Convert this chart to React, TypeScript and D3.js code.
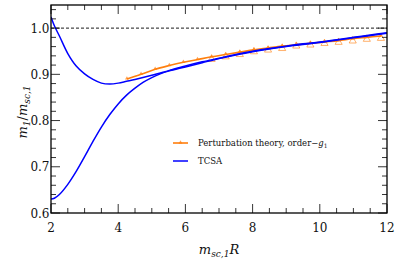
import * as d3 from 'd3'

const W = 399
const H = 262
const MARGIN = { top: 5, right: 12, bottom: 49, left: 51 }

// TCSA, upper branch
const tcsaUpperX = [2.0, 2.1, 2.25, 2.5, 2.75, 3.0, 3.25, 3.5, 3.75, 4.0, 4.25, 4.5, 5.0, 5.5, 6.0, 6.5, 7.0, 7.5, 8.0, 8.5, 9.0, 9.5, 10.0, 10.5, 11.0, 11.5, 12.0]
const tcsaUpperY = [1.024, 1.005, 0.983, 0.945, 0.918, 0.901, 0.889, 0.881, 0.879, 0.881, 0.885, 0.889, 0.898, 0.908, 0.918, 0.927, 0.935, 0.943, 0.950, 0.956, 0.961, 0.966, 0.970, 0.975, 0.980, 0.985, 0.990]

// TCSA, lower branch
const tcsaLowerX = [2.0, 2.1, 2.25, 2.5, 2.75, 3.0, 3.25, 3.5, 3.75, 4.0, 4.25, 4.5, 4.75, 5.0, 5.25, 5.5, 6.0, 6.5, 7.0, 7.5, 8.0, 9.0, 10.0, 11.0, 12.0]
const tcsaLowerY = [0.630, 0.632, 0.640, 0.662, 0.690, 0.722, 0.755, 0.786, 0.813, 0.836, 0.855, 0.870, 0.883, 0.893, 0.901, 0.907, 0.916, 0.925, 0.934, 0.942, 0.949, 0.960, 0.969, 0.979, 0.989]

// perturbation theory
const ptX = [4.26, 4.68, 5.10, 5.52, 5.94, 6.36, 6.78, 7.20, 7.62, 8.04, 8.46, 8.88, 9.30, 9.72, 10.14, 10.56, 10.98, 11.40, 11.82]
const ptY = [0.890, 0.900, 0.911, 0.919, 0.926, 0.932, 0.938, 0.943, 0.948, 0.953, 0.957, 0.961, 0.964, 0.967, 0.970, 0.973, 0.977, 0.980, 0.983]

// open markers drawn below the PT line
const ptOpenX = [6.78, 7.20, 7.62, 8.04, 8.46, 8.88, 9.30, 9.72, 10.14, 10.56, 10.98, 11.40, 11.82]
const ptOpenY = [0.9335, 0.939, 0.944, 0.950, 0.9537, 0.957, 0.9624, 0.9646, 0.968, 0.9704, 0.9733, 0.977, 0.979]

const xTicks = [2, 4, 6, 8, 10, 12]
const yTicks = [0.6, 0.7, 0.8, 0.9, 1.0]

const BLUE = '#0000ff'
const ORANGE = '#ff7f0e'
const FONT = "'DejaVu Serif', 'Liberation Serif', serif"

const zip = (xs: number[], ys: number[]) => xs.map((x, i) => [x, ys[i]] as [number, number])

export default function App() {
  const x = d3.scaleLinear().domain([2, 12]).range([MARGIN.left, W - MARGIN.right])
  const y = d3.scaleLinear().domain([0.6, 1.05]).range([H - MARGIN.bottom, MARGIN.top])

  const line = d3
    .line<[number, number]>()
    .x((d) => x(d[0]))
    .y((d) => y(d[1]))
    .curve(d3.curveCatmullRom.alpha(0.5))

  const x0 = x.range()[0]
  const x1 = x.range()[1]
  const y0 = y.range()[0]
  const y1 = y.range()[1]

  const xMinor = d3.range(2, 12.001, 0.5)
  const yMinor = d3.range(0.6, 1.0501, 0.02)

  const smallTri = d3.symbol(d3.symbolTriangle, 7)()
  const openTri = d3.symbol(d3.symbolTriangle, 22)()

  return (
    <div style={{ position: 'fixed', left: 0, top: 0 }}>
      <svg width={W} height={H} style={{ display: 'block', background: '#fff' }}>
        <defs>
          <clipPath id="plot">
            <rect x={x0} y={y1} width={x1 - x0} height={y0 - y1} />
          </clipPath>
        </defs>

        {/* reference line */}
        <line x1={x0} x2={x1} y1={y(1)} y2={y(1)} stroke="#000" strokeWidth={0.9} strokeDasharray="3,2" />

        <g clipPath="url(#plot)">
          {zip(ptOpenX, ptOpenY).map((d, i) => (
            <path
              key={i}
              d={openTri!}
              transform={`translate(${x(d[0])},${y(d[1]) + 0.5})`}
              fill="none"
              stroke={ORANGE}
              strokeOpacity={0.6}
              strokeWidth={1}
            />
          ))}
          <path d={line(zip(ptX, ptY))!} fill="none" stroke={ORANGE} strokeWidth={1.6} />
          {zip(ptX, ptY).map((d, i) => (
            <path key={i} d={smallTri!} transform={`translate(${x(d[0])},${y(d[1]) - 0.5})`} fill={ORANGE} opacity={0.7} />
          ))}
          <path d={line(zip(tcsaUpperX, tcsaUpperY))!} fill="none" stroke={BLUE} strokeWidth={1.5} />
          <path d={line(zip(tcsaLowerX, tcsaLowerY))!} fill="none" stroke={BLUE} strokeWidth={1.5} />
        </g>

        {/* ticks on all four sides, pointing inward */}
        <g stroke="#000" strokeWidth={0.8}>
          {xMinor.map((v, i) => {
            const major = Math.abs(v - Math.round(v / 2) * 2) < 1e-6
            const len = major ? 9 : 5
            return (
              <g key={i}>
                <line x1={x(v)} x2={x(v)} y1={y0} y2={y0 - len} />
                <line x1={x(v)} x2={x(v)} y1={y1} y2={y1 + len} />
              </g>
            )
          })}
          {yMinor.map((v, i) => {
            const major = Math.abs(v * 10 - Math.round(v * 10)) < 1e-6
            const len = major ? 9 : 5
            return (
              <g key={i}>
                <line x1={x0} x2={x0 + len} y1={y(v)} y2={y(v)} />
                <line x1={x1} x2={x1 - len} y1={y(v)} y2={y(v)} />
              </g>
            )
          })}
        </g>

        <rect x={x0} y={y1} width={x1 - x0} height={y0 - y1} fill="none" stroke="#000" strokeWidth={1.3} />

        {/* tick labels */}
        <g fontFamily={FONT} fontSize={12} fill="#111">
          {xTicks.map((v) => (
            <text key={v} x={x(v)} y={y0 + 19} textAnchor="middle">
              {v}
            </text>
          ))}
          {yTicks.map((v) => (
            <text key={v} x={x0 - 1.5} y={y(v) + 4.5} textAnchor="end">
              {v.toFixed(1)}
            </text>
          ))}
        </g>

        {/* axis titles */}
        <text x={(x0 + x1) / 2} y={254} textAnchor="middle" fontFamily={FONT} fontSize={13} fontStyle="italic" fill="#111">
          m<tspan fontSize={9} dy={3}>sc,1</tspan>
          <tspan dy={-3}>R</tspan>
        </text>
        <text
          transform={`translate(27,${(y0 + y1) / 2 + 3}) rotate(-90)`}
          textAnchor="middle"
          fontFamily={FONT}
          fontSize={13}
          fontStyle="italic"
          fill="#111"
        >
          m<tspan fontSize={9} dy={3}>1</tspan>
          <tspan dy={-3} fontStyle="normal">/</tspan>m<tspan fontSize={9} dy={3}>sc,1</tspan>
        </text>

        {/* legend */}
        <g fontFamily={FONT} fontSize={8.5} fill="#111">
          <line x1={173} x2={188} y1={143} y2={143} stroke={ORANGE} strokeWidth={1.6} />
          <path d={smallTri!} transform="translate(180.5,142.5)" fill={ORANGE} opacity={0.7} />
          <text x={198} y={146}>
            Perturbation theory, order−<tspan fontStyle="italic">g</tspan>
            <tspan fontSize={6} dy={2}>1</tspan>
          </text>
          <line x1={173} x2={188} y1={161} y2={161} stroke={BLUE} strokeWidth={1.5} />
          <text x={198} y={164}>TCSA</text>
        </g>
      </svg>
    </div>
  )
}
